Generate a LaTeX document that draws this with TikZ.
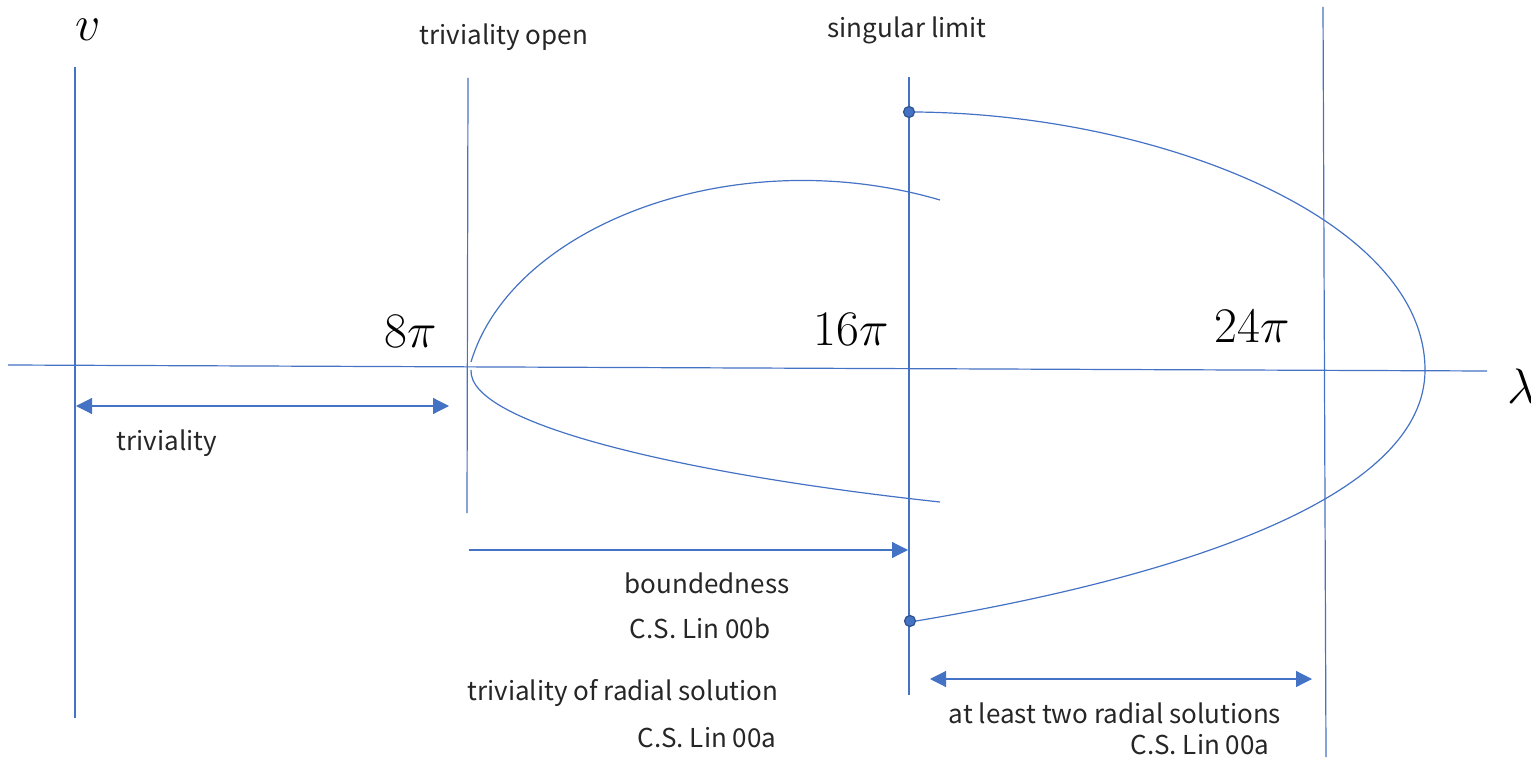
\documentclass[tikz,border=0pt]{standalone}
\usepackage{fontspec}
\newfontfamily\lbl{Noto Sans CJK JP}
\usetikzlibrary{arrows.meta}
\definecolor{ax}{HTML}{4472C4}
\definecolor{dotedge}{HTML}{2F528F}
\begin{document}
\begin{tikzpicture}[x=0.5pt,y=-0.5pt,
  axis/.style={draw=ax,line width=0.6pt},
  curve/.style={draw=ax,line width=0.6pt},
  arr/.style={draw=ax,line width=0.6pt,-{Triangle[length=8pt,width=8pt]}},
  darr/.style={draw=ax,line width=0.6pt,{Triangle[length=8pt,width=8pt]}-{Triangle[length=8pt,width=8pt]}},
  txt/.style={font=\lbl\fontsize{13}{15}\selectfont,text=black!85,inner sep=0pt},
  mth/.style={font=\fontsize{26}{29}\selectfont,inner sep=0pt},
  dot/.style={circle,fill=ax,draw=dotedge,line width=0.6pt,inner sep=0pt,minimum size=5.5pt}]
\useasboundingbox (0,0) rectangle (1531,759);
% axes
\coordinate (hl) at (8,365);
\coordinate (hr) at (1487,371);
\coordinate (vt) at (75,67);
\coordinate (vb) at (75,718);
\coordinate (at) at (468,78);
\coordinate (ab) at (467,513);
\coordinate (bt) at (909,77);
\coordinate (bb) at (909,695);
\coordinate (ct) at (1323,7);
\coordinate (cb) at (1326,757);
\draw[axis] (hl) -- (hr);
\draw[axis] (vt) -- (vb);
\draw[axis] (at) -- (ab);
\draw[axis] (bt) -- (bb);
\draw[axis] (ct) -- (cb);
% labels
\node[mth] (lv) at (88,30) {$v$};
\node[mth] (l8) at (411,331) {$8\pi$};
\node[mth] (l16) at (851,329) {$16\pi$};
\node[mth] (l24) at (1252,326) {$24\pi$};
\node[mth,anchor=west] (ll) at (1507,386) {$\lambda$};
\node[txt] (topen) at (504,37) {triviality open};
\node[txt] (slim) at (907,30) {singular limit};
% curves
\coordinate (us) at (471,362);
\coordinate (ue) at (940,200);
\coordinate (ls) at (471,370);
\coordinate (le) at (940,502);
\draw[curve] (us) .. controls (512,225) and (735,140) .. (ue);
\draw[curve] (ls) .. controls (468,425) and (690,475) .. (le);
\node[dot] (d1) at (909,112) {};
\node[dot] (d2) at (910,621) {};
\coordinate (tip) at (1425,370);
\draw[curve] (d1.east) .. controls (1160,114) and (1425,220) .. (tip);
\draw[curve] (tip) .. controls (1425,495) and (1190,575) .. (d2.east);
% arrows
\coordinate (t1) at (76,406);
\coordinate (t2) at (449,406);
\draw[darr] (t1) -- (t2);
\node[txt] (triv) at (167,443) {triviality};
\coordinate (b1) at (469,550);
\coordinate (b2) at (908,550);
\draw[arr] (b1) -- (b2);
\node[txt] (bdd) at (707,583) {boundedness};
\node[txt] (csb) at (700,628) {C.S. Lin 00b};
\node[txt] (trad) at (623,693) {triviality of radial solution};
\node[txt] (csa) at (707,738) {C.S. Lin 00a};
\coordinate (s1) at (930,679);
\coordinate (s2) at (1312,679);
\draw[darr] (s1) -- (s2);
\node[txt] (two) at (1115,713) {at least two radial solutions};
\node[txt] (csa2) at (1200,745) {C.S. Lin 00a};
\end{tikzpicture}
\end{document}
